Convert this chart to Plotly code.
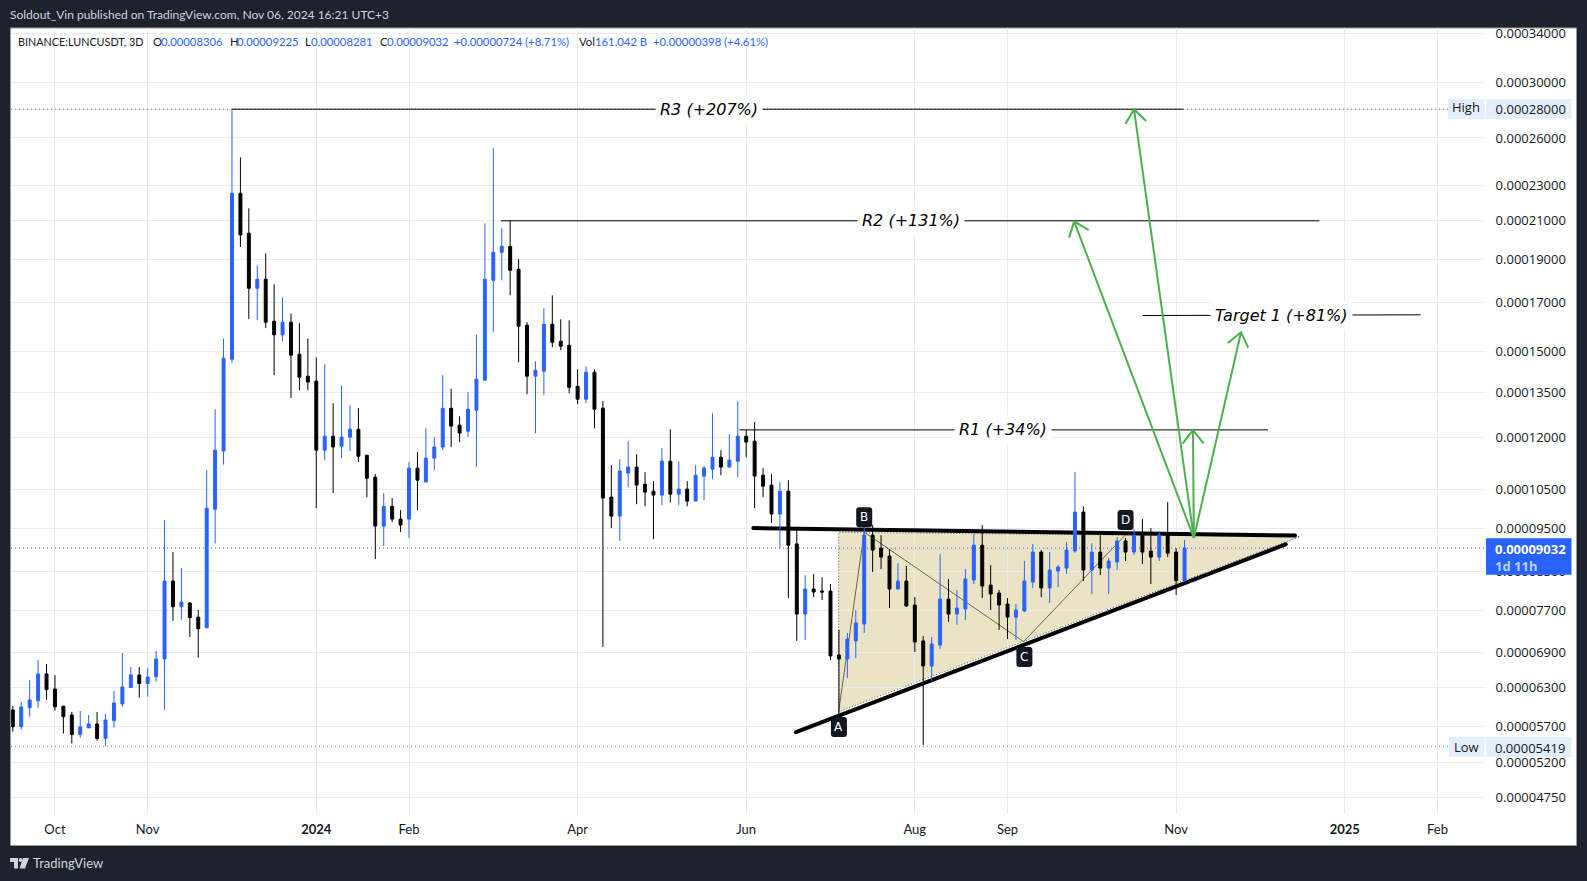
import math
import pandas as pd
import plotly.graph_objects as go

UNIT = 1e-8
START = "2023-09-15"
opens = [5951,5700,5985,6095,6530,6282,6010,5875,5585,5682,
5740,5530,5790,6043,6305,6514,6370,6485,6787,8297,
7765,7840,7560,7355,9985,11600,14700,22540,20340,17650,
18060,16210,15650,16170,14890,14070,13890,11626,12050,11745,
12025,12270,11475,10845,9560,10060,9733,9733,11100,10710,
11390,11720,12950,12400,12210,12888,13923,18014,19360,19660,
18530,16045,14070,14250,16085,15395,15235,13705,13260,14214,
12955,10300,9810,10960,11130,10650,10460,10355,11300,10380,
10515,10195,10875,11070,11415,11130,11300,12050,11900,10900,
10625,9860,10460,9130,7620,8128,8085,8085,6855,6787,
7110,7428,9340,9030,8850,8128,8297,7800,7110,6665,
7037,7920,7620,7720,8318,9100,8210,8045,7820,7560,
7680,8275,8940,8150,8513,8578,8965,9910,8535,8940,
8578,8715,9200,8940,9340,8965,8825,9340,8940,8306]
highs = [6013,6075,6429,6769,6700,6510,6013,5920,5935,5875,
5920,5890,6250,6893,6648,6648,6631,6928,9708,8940,
8578,7860,7699,11043,12920,15500,28000,24730,21685,18720,
19310,17830,17240,16540,16130,15510,14770,14510,13120,13740,
13050,12955,11475,10930,10410,10275,9961,11275,11570,12300,
12020,14110,13620,12690,13500,15650,20860,25330,20600,21025,
19015,16170,14620,16760,17330,16290,16250,14320,14430,14320,
13190,11190,11360,11900,11505,10985,10735,11685,12270,11300,
10735,11185,11160,12790,11626,12120,13190,12241,12500,11100,
10930,10710,10762,9461,8425,8447,8380,8235,7313,7258,
7699,9660,9585,9340,9010,8690,8625,7960,7200,7180,
8890,8340,8107,8557,9365,9585,8645,8107,7940,7820,
8735,9130,8986,8940,8645,9175,10985,10060,9150,9340,
8800,9295,9270,9485,9733,9510,9437,10170,9030,9225]
lows = [5627,5657,5850,5985,6110,5940,5600,5458,5540,5682,
5500,5419,5685,6000,6305,6143,6158,6402,5955,7490,
7510,7185,6810,7355,9140,11200,14560,19630,16300,16250,
15925,14105,15395,13300,13569,13569,10010,11331,10408,11390,
11600,11275,10300,8780,9080,9660,9415,9270,9961,10710,
11043,11626,11720,11870,12025,11130,13923,15755,18014,17330,
14585,13430,12145,13400,15160,15042,13465,13090,13120,12300,
7000,9510,9200,10570,10115,10060,9245,10090,10165,10090,
10060,10195,10221,10790,10900,11130,10845,11415,10010,10300,
9635,9030,7940,7110,7127,7960,7900,6769,5845,6462,
6804,7257,8492,8557,7740,8128,7760,6910,5438,6413,
6964,7467,7410,7504,8235,7940,7699,7313,7145,7127,
7660,8150,7960,7840,8170,8450,8920,8297,8025,8425,
8025,8535,8735,8870,8670,8235,8735,8825,8005,8281]
closes = [5700,5997,6106,6530,6270,6000,5850,5585,5697,5740,
5530,5800,6058,6314,6514,6370,6480,6787,8297,7765,
7860,7550,7337,10010,11626,14735,22540,20250,17650,18060,
16170,15650,16170,14850,14030,13860,11626,12050,11720,12025,
12270,11445,10815,9560,10060,9733,9585,11100,10762,11390,
11720,12950,12370,12150,12920,13960,18060,19360,19660,18484,
16000,14070,14286,16085,15355,15200,13670,13260,14214,12920,
10275,9810,11015,11130,10625,10435,10355,11300,10380,10515,
10195,10900,11100,11415,11130,11331,12050,11870,10875,10595,
9860,10460,9100,7620,8128,8065,8065,6840,6787,7145,
7447,9340,8986,8825,8128,8297,7780,7090,6665,7055,
7920,7620,7740,8340,9100,8190,8025,7800,7560,7699,
8297,8940,8150,8535,8600,8986,9910,8535,8940,8578,
8735,9200,8940,9340,8940,8825,9340,8915,8306,9032]

x_tick_dates = ["2023-09-30","2023-11-02","2024-01-01","2024-02-03","2024-04-03","2024-06-02",
                "2024-08-01","2024-09-03","2024-11-02","2025-01-01","2025-02-03"]
x_tick_text = ["Oct","Nov","<b>2024</b>","Feb","Apr","Jun","Aug","Sep","Nov","<b>2025</b>","Feb"]
y_tick_vals = [34000,30000,28000,26000,23000,21000,19000,17000,15000,13500,12000,10500,9500,8500,7700,6900,6300,5700,5200,4750]
y_tick_text = ["0.%08d" % v for v in y_tick_vals]

# Drawings: (bar index, price in UNIT)
top_line = [(87.84, 9510), (152.1, 9329)]
bottom_line = [(92.9, 5619), (151.0, 9120)]
triangle = [(97.96, 5925), (97.96, 9406), (152.7, 9305)]
abcd = [(97.96, 5925), (101.0, 9412), (119.9, 7096), (131.97, 9340)]
abcd_labels = [("A", 98, 5695), ("B", 101, 9783), ("C", 120, 6823), ("D", 132, 9708)]
levels = [("R3 (+207%)", 26, 138.85, 28000, 28000, 82.6),
          ("R2 (+131%)", 57.9, 155, 21000, 21000, 106.5),
          ("R1 (+34%)", 86.2, 148.9, 12250, 12250, 117.5),
          ("Target 1 (+81%)", 134, 167, 16450, 16480, 150.5)]
arrow_origin = (140.1, 9270)
arrow_tips = [(133.0, 28000), (125.9, 20970), (140.0, 12241), (145.7, 15757)]
HIGH, LOW, LAST = 28000, 5419, 9032

L, R, T, B = 11, 102, 27.5, 67
W, H = 1587, 881
PW, PH = W - L - R, H - T - B
BAR_PX, LOG_PX = 8.43, 388.2
I0, I1 = -0.214, 174.64
Y0, Y1 = math.log10(4.551e-5), math.log10(3.452e-4)

t0 = pd.Timestamp(START)
dates = [t0 + pd.Timedelta(days=3 * i) for i in range(len(opens))]
def bar(i):
    return (t0 + pd.Timedelta(days=3 * i)).strftime("%Y-%m-%d %H:%M:%S")
def P(px):
    return (px - L) / PW
def Q(py):
    return 1 - (py - T) / PH
def val(v):
    return v * UNIT
def bar_paper(i):
    return (i - I0) / (I1 - I0)
def val_paper(v):
    return (math.log10(val(v)) - Y0) / (Y1 - Y0)

BLUE = "#2962FF"
fig = go.Figure()
anns = []
shapes = []

def rect(x0, y0, x1, y1, fill, layer="above", ln=None):
    shapes.append(dict(type="rect", xref="paper", yref="paper", x0=P(x0), x1=P(x1), y0=Q(y1), y1=Q(y0),
                       fillcolor=fill, line=ln or dict(width=0), layer=layer))

# white chart panel with its thin frame (must come first among the lower shapes)
rect(10.5, 27.5, 1576.5, 845.5, "#ffffff", layer="below", ln=dict(color="#9598a1", width=1))

def line(pts, color, width):
    fig.add_trace(go.Scatter(x=[bar(p[0]) for p in pts], y=[val(p[1]) for p in pts], mode="lines",
                             line=dict(color=color, width=width), hoverinfo="skip", showlegend=False))

def seg(pts, color, width, dash="solid"):
    for a, b in zip(pts, pts[1:]):
        shapes.append(dict(type="line", xref="x", yref="y", x0=bar(a[0]), x1=bar(b[0]),
                           y0=val(a[1]), y1=val(b[1]), layer="between",
                           line=dict(color=color, width=width, dash=dash)))

# triangle fill (below the candles)
path = "M " + " L ".join(f"{bar_paper(i)},{val_paper(v)}" for i, v in triangle) + " Z"
shapes.append(dict(type="path", xref="paper", yref="paper", path=path, fillcolor="rgba(216,200,140,0.5)",
                   line=dict(color="#555555", width=1, dash="1px,2px"), layer="below"))

DOTS = "1px,3px"
seg([(I0, HIGH), (170.4, HIGH)], "#787b86", 1, DOTS)
seg([(I0, LOW), (170.4, LOW)], "#787b86", 1, DOTS)
seg([(I0, LAST), (I1, LAST)], BLUE, 1, DOTS)
seg(abcd, "#6b6448", 1)
seg(top_line, "#000000", 4)
seg(bottom_line, "#000000", 4)

fig.add_trace(go.Candlestick(x=dates,
    open=[val(v) for v in opens], high=[val(v) for v in highs],
    low=[val(v) for v in lows], close=[val(v) for v in closes],
    increasing=dict(line=dict(color=BLUE, width=1), fillcolor=BLUE),
    decreasing=dict(line=dict(color="#000000", width=1), fillcolor="#000000"),
    hoverinfo="skip", showlegend=False))

ends = top_line + bottom_line
fig.add_trace(go.Scatter(x=[bar(p[0]) for p in ends], y=[val(p[1]) for p in ends], mode="markers",
                         marker=dict(size=4, color="#000000"), hoverinfo="skip", showlegend=False))

for text, i0, i1, p0, p1, ic in levels:
    line([(i0, p0), (i1, p1)], "#000000", 1)
    anns.append(dict(x=bar(ic), y=math.log10(val((p0 + p1) / 2)), xref="x", yref="y", text=text,
                     showarrow=False, bgcolor="#ffffff", borderpad=4,
                     font=dict(family="DejaVu Sans", size=16, color="#000000", style="italic")))

GREEN = "#4CAF50"
for tip in arrow_tips:
    dx = (tip[0] - arrow_origin[0]) * BAR_PX
    dy = math.log(tip[1] / arrow_origin[1]) * LOG_PX
    ang = math.atan2(dy, dx)
    wings = []
    for s in (-1, 1):
        a = ang + math.pi + s * math.radians(38)
        wings.append((tip[0] + 17 * math.cos(a) / BAR_PX, tip[1] * math.exp(17 * math.sin(a) / LOG_PX)))
    line([arrow_origin, tip, wings[0], tip, wings[1]], GREEN, 2)

def rounded(w, h, r):
    return (f"M {-w+r},{-h} L {w-r},{-h} Q {w},{-h} {w},{-h+r} L {w},{h-r} Q {w},{h} {w-r},{h} "
            f"L {-w+r},{h} Q {-w},{h} {-w},{h-r} L {-w},{-h+r} Q {-w},{-h} {-w+r},{-h} Z")

for name, i, p in abcd_labels:
    shapes.append(dict(type="path", xref="x", yref="y", xsizemode="pixel", ysizemode="pixel",
                       xanchor=bar(i), yanchor=val(p), path=rounded(8, 10, 3),
                       fillcolor="#131722", line=dict(width=0), layer="above"))
    anns.append(dict(x=bar(i), y=math.log10(val(p)), xref="x", yref="y", text=name, showarrow=False,
                     font=dict(family="DejaVu Sans", size=12, color="#ffffff")))

def label(px, py, text, size, color, family="Open Sans", anchor="left"):
    anns.append(dict(x=P(px), y=Q(py), xref="paper", yref="paper", text=text, showarrow=False,
                     xanchor=anchor, yanchor="middle", borderpad=0, borderwidth=0,
                     font=dict(family=family, size=size, color=color)))

# price-scale badges
rect(1448, 98.5, 1484.5, 118.5, "#e3effd", layer="below")
rect(1486, 98.5, 1571.5, 118.5, "#e3effd", layer="below")
rect(1449, 737, 1484.5, 757, "#e3effd", layer="below")
rect(1486, 737, 1571.5, 757, "#e3effd", layer="below")
rect(1486, 538, 1571.5, 574.7, BLUE)
label(1452, 107, "High", 13, "#131722")
label(1454, 747, "Low", 13, "#131722")
label(1495, 748, "0.00005419", 13, "#131722")
label(1495, 549, "<b>0.00009032</b>", 13, "#ffffff")
label(1495, 565.5, "<b>1d 11h</b>", 13, "#bcd0ff")

# header, legend row, footer
label(10, 13.5, "Soldout_Vin published on TradingView.com, Nov 06, 2024 16:21 UTC+3", 12, "#d1d4dc", "Lato")
for px, text, color, size in [(18, "BINANCE:LUNCUSDT, 3D", "#131722", 10.8), (153, "O", "#131722", 11.3), (161, "0.00008306", BLUE, 11.3),
                        (229.5, "H", "#131722", 11.3), (237, "0.00009225", BLUE, 11.3), (304.5, "L", "#131722", 11.3),
                        (311, "0.00008281", BLUE, 11.3), (379.5, "C", "#131722", 11.3), (387, "0.00009032", BLUE, 11.3),
                        (454, "+0.00000724 (+8.71%)", BLUE, 11.3), (578.5, "Vol", "#131722", 11.3), (595, "161.042 B", BLUE, 11.3),
                        (652.5, "+0.00000398 (+4.61%)", BLUE, 11.3)]:
    label(px, 41.5, text, size, color, "Lato")
label(33, 863.5, "TradingView", 13, "#d1d4dc", "Lato")

def poly(points, fill):
    p = "M " + " L ".join(f"{P(a)},{Q(b)}" for a, b in points) + " Z"
    shapes.append(dict(type="path", xref="paper", yref="paper", path=p, fillcolor=fill,
                       line=dict(width=0), layer="above"))
poly([(10, 858), (18, 858), (18, 868.5), (14, 868.5), (14, 862), (10, 862)], "#d1d4dc")
poly([(23, 858), (29, 858), (25, 868.5), (19.5, 868.5)], "#d1d4dc")
shapes.append(dict(type="circle", xref="paper", yref="paper", x0=P(18.7), x1=P(22.5), y0=Q(862), y1=Q(858),
                   fillcolor="#d1d4dc", line=dict(width=0), layer="above"))

GRID = "#ebebeb"
fig.update_layout(
    width=W, height=H, margin=dict(l=L, r=R, t=T, b=B, autoexpand=False),
    paper_bgcolor="#1e222d", plot_bgcolor="#ffffff", showlegend=False, boxgap=0.5,
    shapes=shapes, annotations=anns,
    xaxis=dict(type="date", range=[bar(I0), bar(I1)], rangeslider=dict(visible=False),
               tickmode="array", tickvals=x_tick_dates, ticktext=x_tick_text, ticks="outside", ticklen=3,
               tickcolor="rgba(0,0,0,0)", showgrid=True, gridcolor=GRID, gridwidth=1,
               zeroline=False, showline=False,
               tickfont=dict(family="Lato", size=13, color="#131722")),
    yaxis=dict(type="log", side="right", range=[Y0, Y1],
               tickmode="array", tickvals=[val(v) for v in y_tick_vals], ticktext=y_tick_text,
               ticks="outside", ticklen=7, tickcolor="rgba(0,0,0,0)", showgrid=True, gridcolor=GRID, gridwidth=1,
               zeroline=False, showline=False,
               tickfont=dict(family="Open Sans", size=13, color="#131722")),
)
fig.write_html("out.html", config={"displayModeBar": False},
               post_script="document.body.style.margin='0';document.body.style.overflow='hidden';")
